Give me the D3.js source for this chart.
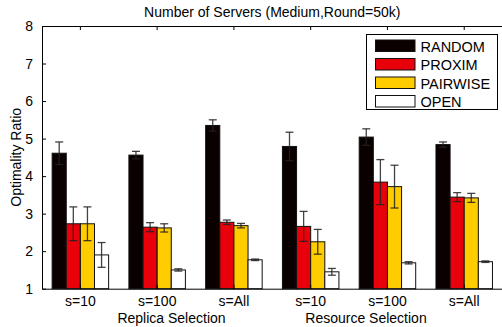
<!DOCTYPE html>
<html>
<head>
<meta charset="utf-8">
<script src="https://cdn.jsdelivr.net/npm/d3@7"></script>
<style>
  html, body { margin: 0; padding: 0; background: #fff; }
  svg { display: block; font-family: "Liberation Sans", Arial, sans-serif; }
</style>
</head>
<body>
<svg id="chart" width="502" height="327"></svg>
<script>
// Groups along the x axis
const groups = ["s=10", "s=100", "s=All", "s=10 ", "s=100 ", "s=All "];
const groupLabels = ["s=10", "s=100", "s=All", "s=10", "s=100", "s=All"];
const sections = ["Replica Selection", "Resource Selection"];
const seriesNames = ["RANDOM", "PROXIM", "PAIRWISE", "OPEN"];
const seriesColors = ["#0a0000", "#e8000b", "#ffcc00", "#ffffff"];

// Mean optimality ratio per series, one entry per group
const randomMean   = [4.61, 4.56, 5.35, 4.79, 5.04, 4.84];
const proximMean   = [2.73, 2.64, 2.77, 2.66, 3.84, 3.44];
const pairwiseMean = [2.73, 2.62, 2.68, 2.25, 3.72, 3.42];
const openMean     = [1.90, 1.50, 1.77, 1.45, 1.69, 1.72];

// Half-width of the error bars
const randomErr   = [0.30, 0.10, 0.15, 0.38, 0.22, 0.07];
const proximErr   = [0.45, 0.12, 0.06, 0.40, 0.60, 0.12];
const pairwiseErr = [0.45, 0.11, 0.06, 0.33, 0.57, 0.12];
const openErr     = [0.33, 0.03, 0.02, 0.09, 0.03, 0.02];

const yTicks = [1, 2, 3, 4, 5, 6, 7, 8];

const means = [randomMean, proximMean, pairwiseMean, openMean];
const errs = [randomErr, proximErr, pairwiseErr, openErr];

const svg = d3.select("#chart");
const plotLeft = 42, plotRight = 502.6, plotTop = 26, plotBottom = 288.7;

const x0 = d3.scaleBand().domain(groups).range([plotLeft, plotRight])
  .paddingInner(0.264).paddingOuter(0.132);
const x1 = d3.scaleBand().domain(seriesNames).range([0, x0.bandwidth()]);
const y = d3.scaleLinear().domain([1, 8]).range([plotBottom, plotTop]);

// Bars
const rows = [];
groups.forEach((g, gi) => {
  seriesNames.forEach((s, si) => {
    rows.push({ g, s, si, v: means[si][gi], e: errs[si][gi] });
  });
});

const gBars = svg.append("g");
gBars.selectAll("rect").data(rows).join("rect")
  .attr("x", d => x0(d.g) + x1(d.s))
  .attr("y", d => y(d.v))
  .attr("width", x1.bandwidth())
  .attr("height", d => y(1) - y(d.v))
  .attr("fill", d => seriesColors[d.si])
  .attr("stroke", "#111")
  .attr("stroke-width", 1);

// Error bars
const gErr = svg.append("g").attr("stroke", "#222").attr("stroke-width", 1.3).attr("stroke-opacity", 0.85);
const cap = 4;
rows.forEach(d => {
  const cx = x0(d.g) + x1(d.s) + x1.bandwidth() / 2;
  const y1 = y(d.v + d.e), y2 = y(d.v - d.e);
  gErr.append("line").attr("x1", cx).attr("x2", cx).attr("y1", y1).attr("y2", y2);
  gErr.append("line").attr("x1", cx - cap).attr("x2", cx + cap).attr("y1", y1).attr("y2", y1);
  gErr.append("line").attr("x1", cx - cap).attr("x2", cx + cap).attr("y1", y2).attr("y2", y2);
});

// Axes: left with inward ticks, bottom and top with ticks at group centres
const yAxis = d3.axisLeft(y).tickValues(yTicks).tickFormat(d3.format("d"))
  .tickSizeInner(-4).tickSizeOuter(0).tickPadding(9);
const gy = svg.append("g").attr("transform", `translate(${plotLeft},0)`).call(yAxis);
gy.selectAll("text").attr("font-size", 14).attr("fill", "#000");
gy.selectAll("line,path").attr("stroke", "#000");

const xAxis = d3.axisBottom(x0).tickSizeInner(-4).tickSizeOuter(0)
  .tickFormat((d, i) => groupLabels[i]);
const gx = svg.append("g").attr("transform", `translate(0,${plotBottom})`).call(xAxis);
gx.selectAll("text").attr("font-size", 14).attr("fill", "#000")
  .attr("y", 17.8).attr("dy", 0);
gx.selectAll("line,path").attr("stroke", "#000");

const xTop = d3.axisTop(x0).tickSizeInner(-4).tickSizeOuter(0).tickFormat("");
const gt = svg.append("g").attr("transform", `translate(0,${plotTop})`).call(xTop);
gt.selectAll("line,path").attr("stroke", "#000");

svg.append("line").attr("x1", plotRight).attr("x2", plotRight).attr("y1", plotTop).attr("y2", plotBottom)
  .attr("stroke", "#000");

// Section labels under the group labels
const sectionX = [171.5, 366];
svg.selectAll("text.section").data(sections).join("text")
  .attr("class", "section")
  .attr("x", (d, i) => sectionX[i])
  .attr("y", 323.3)
  .attr("text-anchor", "middle")
  .attr("font-size", 14)
  .text(d => d);

// Y axis title
svg.append("text")
  .attr("transform", `translate(21,${(plotTop + plotBottom) / 2}) rotate(-90)`)
  .attr("text-anchor", "middle")
  .attr("font-size", 14)
  .text("Optimality Ratio");

// Chart title
svg.append("text")
  .attr("x", (plotLeft + plotRight) / 2)
  .attr("y", 17)
  .attr("text-anchor", "middle")
  .attr("font-size", 14)
  .text("Number of Servers (Medium,Round=50k)");

// Legend
const lg = svg.append("g").attr("transform", "translate(366.5,34.5)");
lg.append("rect").attr("width", 131).attr("height", 75)
  .attr("fill", "#fff").attr("stroke", "#000").attr("stroke-width", 1);
seriesNames.forEach((s, i) => {
  const row = lg.append("g").attr("transform", `translate(0,${11.5 + i * 18.5})`);
  row.append("rect").attr("x", 9).attr("y", -6).attr("width", 39.5).attr("height", 11.5)
    .attr("fill", seriesColors[i]).attr("stroke", "#111").attr("stroke-width", 1);
  row.append("text").attr("x", 54).attr("y", 5.5).attr("font-size", 14.5).text(s);
});
</script>
</body>
</html>
